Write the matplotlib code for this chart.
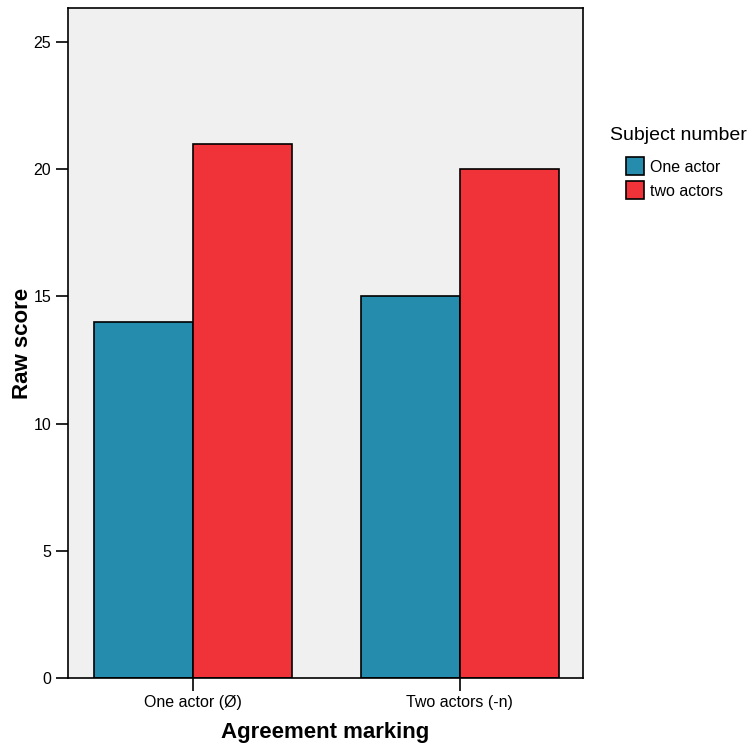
import numpy as np
import matplotlib
matplotlib.use("Agg")
import matplotlib.pyplot as plt
from matplotlib.patches import Patch

plt.rcParams['font.family'] = ['Liberation Sans', 'DejaVu Sans']

categories = ["One actor (Ø)", "Two actors (-n)"]
series_names = ["One actor", "two actors"]
one_actor = [14, 15]
two_actors = [21, 20]
colors = ["#268CAD", "#F03339"]

fig = plt.figure(figsize=(7.52, 7.49), dpi=100)
ax = fig.add_axes([68/752, 71/749, 515/752, 670/749])
ax.set_facecolor("#F0F0F0")

x = np.arange(len(categories))
w = 0.372
ax.bar(x - w/2, one_actor, w, color=colors[0], edgecolor="black", linewidth=1.2)
ax.bar(x + w/2, two_actors, w, color=colors[1], edgecolor="black", linewidth=1.2)

ax.set_xlim(-0.468, 1.461)
ax.set_ylim(0, 26.34)
ax.set_yticks([0, 5, 10, 15, 20, 25])
ax.set_xticks(x)
ax.set_xticklabels(categories)
ax.tick_params(axis="both", labelsize=11.5, length=9, width=1.2, direction="out", pad=3)
for s in ax.spines.values():
    s.set_linewidth(1.2)

ax.set_xlabel("Agreement marking", fontsize=16, fontweight="bold")
ax.set_ylabel("Raw score", fontsize=16, fontweight="bold")
ax.xaxis.set_label_coords(0.5, -0.081)
ax.yaxis.set_label_coords(-0.089, 0.5)
ax.xaxis.label.set_va("center")
ax.yaxis.label.set_va("center")

# legend title as separate text, entries below
fig.text(610/752, 1 - 135/749, "Subject number", fontsize=14, va="center", ha="left")
handles = [Patch(facecolor=c, edgecolor="black", linewidth=1.2) for c in colors]
leg = fig.legend(handles, series_names, loc="upper left",
                 bbox_to_anchor=(626/752, 1 - 157/749), frameon=False, fontsize=11.5,
                 handlelength=1.1, handleheight=1.4, borderpad=0, borderaxespad=0,
                 handletextpad=0.4, labelspacing=0.35)

fig.savefig("out.png", dpi=100)
